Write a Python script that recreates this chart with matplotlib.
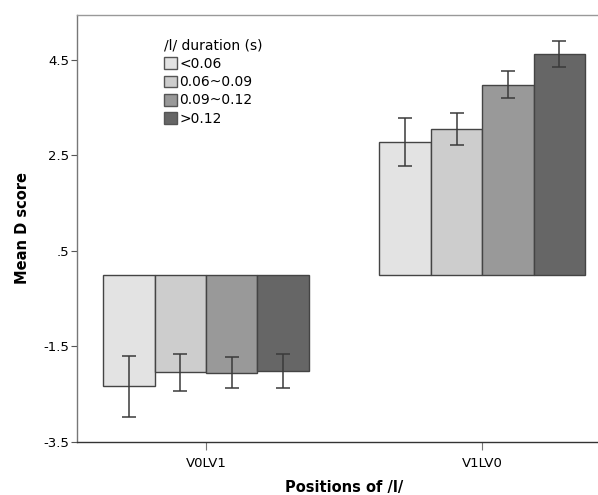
import numpy as np
import matplotlib
matplotlib.use("Agg")
import matplotlib.pyplot as plt
from matplotlib.patches import Patch

plt.rcParams['font.family'] = ['DejaVu Sans']

# 数据：位置 × 时长分组
positions = ['V0LV1', 'V1LV0']
durations = ['<0.06', '0.06~0.09', '0.09~0.12', '>0.12']
colors = ['#e3e3e3', '#cdcdcd', '#999999', '#666666']

mean_v0lv1 = [-2.33, -2.04, -2.05, -2.01]
mean_v1lv0 = [2.78, 3.05, 3.98, 4.62]
err_v0lv1 = [0.64, 0.39, 0.32, 0.35]
err_v1lv0 = [0.50, 0.34, 0.29, 0.28]

yticks = [-3.5, -1.5, 0.5, 2.5, 4.5]
ytick_labels = ['-3.5', '-1.5', '.5', '2.5', '4.5']

fig = plt.figure(figsize=(5.98, 4.95), dpi=100)
ax = fig.add_axes([0.128, 0.107, 0.895, 0.863])

x = np.arange(len(positions))
width = 0.186
means = np.array([mean_v0lv1, mean_v1lv0])
errs = np.array([err_v0lv1, err_v1lv0])

for i, dur in enumerate(durations):
    xpos = x + (i - 1.5) * width
    ax.bar(xpos, means[:, i], width=width, color=colors[i],
           edgecolor='#444444', linewidth=1.0, zorder=2)
    ax.errorbar(xpos, means[:, i], yerr=errs[:, i], fmt='none',
                ecolor='#3a3a3a', elinewidth=1.1, capsize=4.8, capthick=1.1, zorder=3)

ax.set_xlim(-0.469, 1.469)
ax.set_ylim(-3.5, 5.44)
ax.set_yticks(yticks)
ax.set_yticklabels(ytick_labels, fontsize=9.5)
ax.set_xticks(x)
ax.set_xticklabels(positions, fontsize=9.5)

ax.spines['right'].set_visible(False)
ax.spines['top'].set_color('#999999')
ax.spines['left'].set_color('#777777')
ax.spines['bottom'].set_color('#333333')
for s in ax.spines.values():
    s.set_linewidth(1.0)
ax.tick_params(axis='y', direction='out', length=4, color='#555555', pad=1)
ax.tick_params(axis='x', direction='out', length=6, color='#777777', pad=5)

ax.set_ylabel('Mean D score', fontsize=10.5, fontweight='bold', labelpad=10)
ax.set_xlabel('Positions of /l/', fontsize=10.5, fontweight='bold', labelpad=7)

handles = [Patch(facecolor=c, edgecolor='#555555', linewidth=1.0) for c in colors]
leg = ax.legend(handles, durations, title='/l/ duration (s)', frameon=False,
                loc='upper left', bbox_to_anchor=(157 / 598, 1 - 32 / 495),
                bbox_transform=fig.transFigure, fontsize=10, title_fontsize=10,
                handlelength=0.95, handleheight=0.95, handletextpad=0.15,
                labelspacing=0.3, borderpad=0, alignment='left')

fig.savefig('out.png', dpi=100)
